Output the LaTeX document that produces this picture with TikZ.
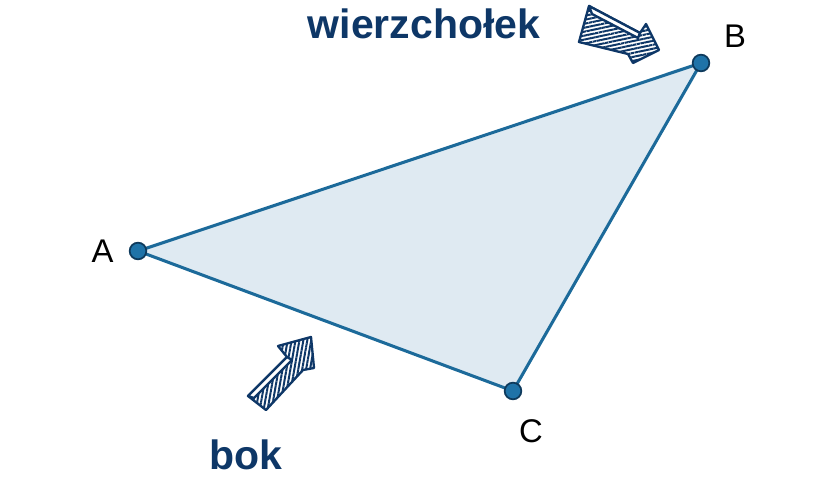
\documentclass[tikz,border=0pt]{standalone}
\usepackage{fontspec}
\setmainfont{Liberation Sans}
\usepackage{tikz}
\usetikzlibrary{patterns.meta}
\definecolor{navy}{HTML}{0E3767}
\definecolor{sideblue}{HTML}{1C6A9A}
\definecolor{facefill}{HTML}{DFEAF2}
\definecolor{ptfill}{HTML}{1F73A8}
\definecolor{ptedge}{HTML}{0E3A5C}
\begin{document}
\begin{tikzpicture}[x=0.03cm, y=-0.03cm,
    vertex/.style={circle, draw=ptedge, fill=ptfill, line width=1.5pt, inner sep=0pt, minimum size=0.5cm},
    side/.style={draw=sideblue, line width=2.6pt, line join=round, fill=facefill},
    letter/.style={font=\fontsize{28}{32}\selectfont, anchor=base},
    word/.style={font=\fontsize{35}{40}\selectfont\bfseries, text=navy, anchor=base},
    sketch/.style={draw=navy, line width=2pt, line join=round, fill=white}]
    \useasboundingbox (0,0) rectangle (840,480);

    % Triangle
    \coordinate (A) at (138,251);
    \coordinate (B) at (701,63);
    \coordinate (C) at (513,391);
    \draw[side] (A) -- (B) -- (C) -- cycle;
    \node[vertex] (pA) at (A) {};
    \node[vertex] (pB) at (B) {};
    \node[vertex] (pC) at (C) {};

    % Vertex names
    \node[letter] (lA) at (102.5,262) {A};
    \node[letter] (lB) at (735,48) {B};
    \node[letter] (lC) at (531,442) {C};

    % Words
    \node[word] (vertexword) at (424,39) {wierzchołek};
    \node[word] (sideword) at (246,469) {bok};

    % Arrow pointing at B
    \draw[sketch, pattern={Lines[angle=12,distance=3.3pt,line width=1.7pt]}, pattern color=navy]
        (589,6) -- (640,33) -- (646,24) -- (659,50) -- (633,63) -- (628,54) -- (579,42) -- cycle;
    \draw[sketch] (589,6) -- (640,33) -- (638,38) -- (592,14) -- cycle;

    % Arrow pointing at side AC
    \draw[sketch, pattern={Lines[angle=80,distance=3.3pt,line width=1.7pt]}, pattern color=navy]
        (248,396) -- (287,357) -- (278,346) -- (311,337) -- (314,368) -- (303,370) -- (266,410) -- cycle;
    \draw[sketch] (248,396) -- (287,357) -- (292,360) -- (254,398) -- cycle;
\end{tikzpicture}
\end{document}
